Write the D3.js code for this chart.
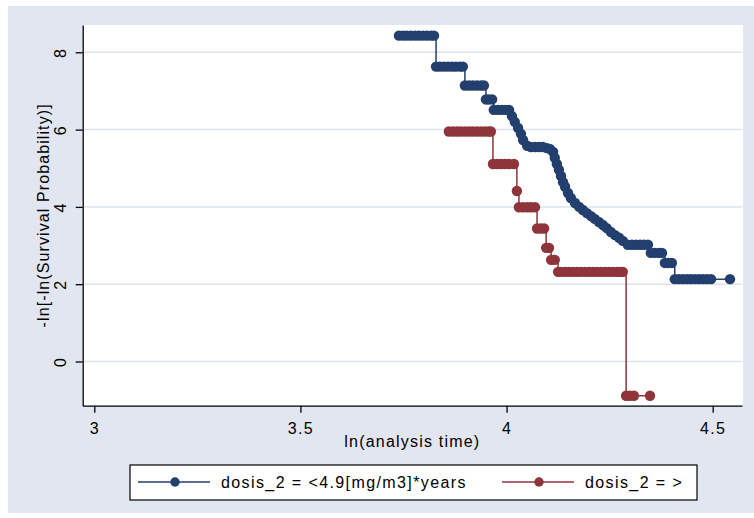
<!DOCTYPE html>
<html>
<head>
<meta charset="utf-8">
<script src="https://cdn.jsdelivr.net/npm/d3@7"></script>
<style>
  html, body { margin: 0; padding: 0; background: #fff; }
  svg { display: block; font-family: "Liberation Sans", Arial, sans-serif; }
</style>
</head>
<body>
<svg id="chart"></svg>
<script>
// group 1: dosis_2 = <4.9[mg/m3]*years  (ln time, -ln[-ln S])
var blueT = [
    3.739, 3.749, 3.758, 3.768, 3.778, 3.787, 3.797, 3.807, 3.817, 3.824,
    3.829, 3.838, 3.848, 3.858, 3.868, 3.877, 3.887, 3.894,
    3.899, 3.909, 3.918, 3.928, 3.938, 3.945,
    3.950, 3.957, 3.965,
    3.969, 3.979, 3.989, 3.998, 4.006,
    4.013, 4.020, 4.028, 4.035, 4.040,
    4.050, 4.059, 4.069, 4.079, 4.088, 4.098, 4.105,
    4.113, 4.117, 4.122, 4.127, 4.132, 4.137, 4.142, 4.149, 4.156, 4.166, 4.176,
    4.185, 4.195, 4.205, 4.214, 4.224, 4.234, 4.243, 4.253, 4.263, 4.273, 4.282,
    4.294, 4.304, 4.314, 4.324, 4.333, 4.343,
    4.350, 4.360, 4.370, 4.377,
    4.384, 4.392, 4.401,
    4.408, 4.418, 4.428, 4.438, 4.447, 4.457, 4.467, 4.476, 4.486, 4.496,
    4.542
];
var blueS = [
    8.43, 8.43, 8.43, 8.43, 8.43, 8.43, 8.43, 8.43, 8.43, 8.43,
    7.63, 7.63, 7.63, 7.63, 7.63, 7.63, 7.63, 7.63,
    7.14, 7.14, 7.14, 7.14, 7.14, 7.14,
    6.78, 6.78, 6.78,
    6.51, 6.51, 6.51, 6.51, 6.51,
    6.35, 6.20, 6.04, 5.89, 5.73,
    5.58, 5.55, 5.55, 5.55, 5.55, 5.52, 5.50,
    5.42, 5.27, 5.11, 4.96, 4.80, 4.64, 4.52, 4.36, 4.23, 4.10, 4.00,
    3.92, 3.84, 3.76, 3.69, 3.61, 3.53, 3.45, 3.35, 3.27, 3.20, 3.12,
    3.02, 3.02, 3.02, 3.02, 3.02, 3.02,
    2.81, 2.81, 2.81, 2.81,
    2.55, 2.55, 2.55,
    2.13, 2.13, 2.13, 2.13, 2.13, 2.13, 2.13, 2.13, 2.13, 2.13,
    2.13
];

// group 2: dosis_2 = >
var redT = [
    3.860, 3.870, 3.880, 3.889, 3.899, 3.909, 3.918, 3.928, 3.938, 3.948, 3.957, 3.962,
    3.967, 3.977, 3.986, 3.996, 4.006, 4.018,
    4.025,
    4.030, 4.040, 4.050, 4.059, 4.069,
    4.074, 4.083, 4.091,
    4.096, 4.103,
    4.108, 4.117,
    4.125, 4.132, 4.142, 4.151, 4.161, 4.171, 4.180, 4.190, 4.200, 4.209, 4.219,
    4.229, 4.239, 4.248, 4.258, 4.268, 4.277, 4.282,
    4.290, 4.299, 4.309,
    4.348
];
var redS = [
    5.95, 5.95, 5.95, 5.95, 5.95, 5.95, 5.95, 5.95, 5.95, 5.95, 5.95, 5.95,
    5.11, 5.11, 5.11, 5.11, 5.11, 5.11,
    4.41,
    3.99, 3.99, 3.99, 3.99, 3.99,
    3.44, 3.44, 3.44,
    2.94, 2.94,
    2.63, 2.63,
    2.32, 2.32, 2.32, 2.32, 2.32, 2.32, 2.32, 2.32, 2.32, 2.32, 2.32,
    2.32, 2.32, 2.32, 2.32, 2.32, 2.32, 2.32,
    -0.885, -0.885, -0.885,
    -0.885
];

var xTicks = [3, 3.5, 4, 4.5];
var xTickLabels = ["3", "3.5", "4", "4.5"];
var yTicks = [0, 2, 4, 6, 8];
var yTickLabels = ["0", "2", "4", "6", "8"];
var seriesNames = ["dosis_2 = <4.9[mg/m3]*years", "dosis_2 = >"];
var seriesColors = ["#233f6e", "#8f343a"];

var width = 754, height = 518;
var plotLeft = 82.7, plotRight = 742, plotTop = 25, plotBottom = 405.7;

var svg = d3.select("#chart")
    .attr("width", width)
    .attr("height", height);

// outer graph region
svg.append("rect")
    .attr("x", 8).attr("y", 6)
    .attr("width", width - 8).attr("height", 507)
    .attr("fill", "#e2e6f0");

// plot region
svg.append("rect")
    .attr("x", plotLeft).attr("y", plotTop)
    .attr("width", plotRight - plotLeft + 1).attr("height", plotBottom - plotTop)
    .attr("fill", "#fff");

var x = d3.scaleLinear().domain([2.9719, 4.5711]).range([plotLeft, plotRight]);
var y = d3.scaleLinear().domain([-1.1436, 8.706]).range([plotBottom, plotTop]);

// grid lines
svg.append("g").selectAll("line")
    .data(yTicks)
    .enter().append("line")
    .attr("x1", plotLeft).attr("x2", plotRight)
    .attr("y1", function(d) { return y(d); })
    .attr("y2", function(d) { return y(d); })
    .attr("stroke", "#dce2ee")
    .attr("stroke-width", 1.5);

// build series
var series = [
    { name: seriesNames[0], color: seriesColors[0], pts: blueT.map(function(t, i) { return [t, blueS[i]]; }) },
    { name: seriesNames[1], color: seriesColors[1], pts: redT.map(function(t, i) { return [t, redS[i]]; }) }
];

var line = d3.line()
    .x(function(d) { return x(d[0]); })
    .y(function(d) { return y(d[1]); })
    .curve(d3.curveStepAfter);

var groups = svg.selectAll(".series")
    .data(series)
    .enter().append("g")
    .attr("class", "series");

groups.append("path")
    .attr("d", function(d) { return line(d.pts); })
    .attr("fill", "none")
    .attr("stroke", function(d) { return d.color; })
    .attr("stroke-width", 1.5);

groups.each(function(s) {
    d3.select(this).selectAll("circle")
        .data(s.pts)
        .enter().append("circle")
        .attr("cx", function(d) { return x(d[0]); })
        .attr("cy", function(d) { return y(d[1]); })
        .attr("r", 5.2)
        .attr("fill", s.color);
});

// axes
var xAxis = svg.append("g")
    .attr("transform", "translate(0," + plotBottom + ")")
    .call(d3.axisBottom(x).tickValues(xTicks).tickSize(7).tickSizeOuter(0)
        .tickFormat(function(d, i) { return xTickLabels[i]; }));

var yAxis = svg.append("g")
    .attr("transform", "translate(" + plotLeft + ",0)")
    .call(d3.axisLeft(y).tickValues(yTicks).tickSize(7).tickSizeOuter(0)
        .tickFormat(function(d, i) { return yTickLabels[i]; }));

[xAxis, yAxis].forEach(function(a) {
    a.select(".domain").attr("stroke", "#000").attr("stroke-width", 1.3);
    a.selectAll(".tick line").attr("stroke", "#000").attr("stroke-width", 1.3);
    a.selectAll("text")
        .attr("fill", "#000")
        .style("font-family", "'Liberation Sans', Arial, sans-serif")
        .style("font-size", "16px")
        .style("letter-spacing", "1.3px");
});

xAxis.selectAll(".tick text")
    .attr("y", 28)
    .attr("dy", 0)
    .attr("text-anchor", "middle");

yAxis.selectAll(".tick text")
    .attr("transform", "rotate(-90)")
    .attr("x", 0)
    .attr("y", -16.7)
    .attr("dy", 0)
    .attr("text-anchor", "middle");

// axis titles
svg.append("text")
    .attr("x", (plotLeft + plotRight) / 2)
    .attr("y", 447)
    .attr("text-anchor", "middle")
    .style("font-size", "16px")
    .style("letter-spacing", "1.2px")
    .text("ln(analysis time)");

svg.append("text")
    .attr("transform", "translate(48.5," + (plotTop + plotBottom) / 2 + ") rotate(-90)")
    .attr("text-anchor", "middle")
    .style("font-size", "16px")
    .style("letter-spacing", "1.1px")
    .text("-ln[-ln(Survival Probability)]");

// legend
var legend = svg.append("g");
legend.append("rect")
    .attr("x", 130).attr("y", 465)
    .attr("width", 567).attr("height", 35)
    .attr("fill", "#fff")
    .attr("stroke", "#000")
    .attr("stroke-width", 1.2);

var legendX = [138, 502];
var items = legend.selectAll(".item")
    .data(series)
    .enter().append("g")
    .attr("transform", function(d, i) { return "translate(" + legendX[i] + ",482)"; });

items.append("line")
    .attr("x1", 0).attr("x2", 72)
    .attr("stroke", function(d) { return d.color; })
    .attr("stroke-width", 1.5);

items.append("circle")
    .attr("cx", 37).attr("r", 4.7)
    .attr("fill", function(d) { return d.color; });

items.append("text")
    .attr("x", 83)
    .attr("y", 6)
    .style("font-size", "16px")
    .style("letter-spacing", "1.4px")
    .text(function(d) { return d.name; });
</script>
</body>
</html>
